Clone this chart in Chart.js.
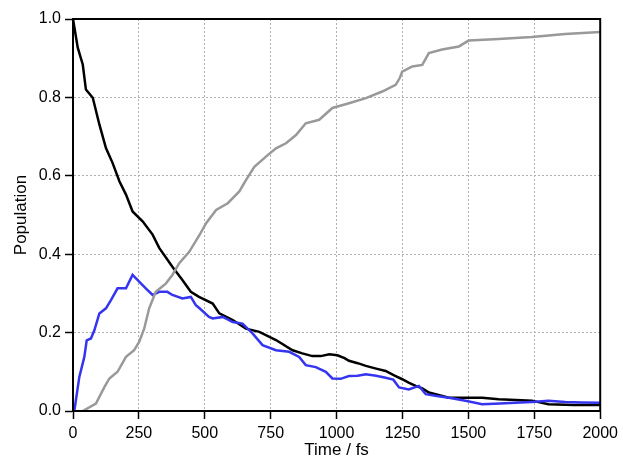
<!DOCTYPE html>
<html>
<head>
<meta charset="utf-8">
<script src="https://cdn.jsdelivr.net/npm/chart.js@4/dist/chart.umd.min.js"></script>
<style>
	body { margin: 0; background: #fff; }
	#box { width: 623px; height: 459px; }
</style>
</head>
<body>
<div id="box"><canvas id="grafico_pop"></canvas></div>
<script>
// valores (tempo em fs, populacao)
var x_ticks = [0, 250, 500, 750, 1000, 1250, 1500, 1750, 2000];
var y_ticks = [0.0, 0.2, 0.4, 0.6, 0.8, 1.0];

var preto_t = [0, 18, 37, 49, 75, 100, 125, 150, 176, 201, 226, 264, 302, 327, 377, 415, 447, 478, 530, 555, 606, 656, 707, 770, 833, 870, 908, 940, 972, 1003, 1030, 1047, 1080, 1111, 1150, 1186, 1220, 1249, 1275, 1300, 1325, 1350, 1390, 1426, 1490, 1552, 1615, 1680, 1741, 1770, 1804, 1900, 2000];
var preto_v = [1.0, 0.927, 0.884, 0.82, 0.799, 0.731, 0.671, 0.633, 0.586, 0.552, 0.509, 0.484, 0.45, 0.416, 0.368, 0.334, 0.304, 0.291, 0.274, 0.249, 0.232, 0.21, 0.202, 0.181, 0.155, 0.147, 0.14, 0.14, 0.145, 0.142, 0.135, 0.128, 0.122, 0.115, 0.108, 0.102, 0.09, 0.081, 0.072, 0.064, 0.058, 0.047, 0.04, 0.034, 0.034, 0.034, 0.03, 0.028, 0.026, 0.022, 0.017, 0.015, 0.015];

var azul_t = [5, 24, 43, 52, 68, 81, 100, 125, 144, 169, 201, 226, 251, 276, 302, 327, 358, 377, 415, 447, 466, 480, 516, 530, 568, 606, 643, 681, 719, 770, 820, 858, 883, 921, 959, 984, 1015, 1047, 1080, 1111, 1150, 1186, 1215, 1237, 1274, 1312, 1338, 1380, 1426, 1489, 1552, 1620, 1678, 1740, 1804, 1867, 1930, 2000];
var azul_v = [0, 0.087, 0.138, 0.18, 0.185, 0.206, 0.249, 0.262, 0.283, 0.313, 0.313, 0.347, 0.33, 0.313, 0.296, 0.304, 0.304, 0.296, 0.287, 0.291, 0.27, 0.262, 0.24, 0.236, 0.24, 0.227, 0.223, 0.198, 0.168, 0.155, 0.151, 0.138, 0.117, 0.112, 0.1, 0.083, 0.082, 0.089, 0.09, 0.094, 0.09, 0.085, 0.08, 0.06, 0.055, 0.064, 0.043, 0.038, 0.034, 0.026, 0.017, 0.019, 0.021, 0.023, 0.026, 0.023, 0.022, 0.021];

var cinza_t = [37, 87, 119, 138, 169, 201, 232, 251, 270, 289, 314, 352, 377, 403, 441, 480, 505, 543, 587, 631, 656, 688, 732, 770, 808, 846, 883, 934, 984, 1047, 1111, 1173, 1224, 1240, 1249, 1287, 1325, 1350, 1400, 1464, 1501, 1615, 1741, 1867, 2000];
var cinza_v = [0, 0.019, 0.061, 0.083, 0.1, 0.138, 0.155, 0.176, 0.21, 0.262, 0.304, 0.325, 0.347, 0.377, 0.406, 0.449, 0.479, 0.513, 0.53, 0.56, 0.589, 0.623, 0.649, 0.67, 0.683, 0.704, 0.734, 0.743, 0.773, 0.785, 0.798, 0.815, 0.832, 0.85, 0.866, 0.879, 0.883, 0.913, 0.922, 0.93, 0.945, 0.949, 0.954, 0.962, 0.967];

function juntar(t, v) {
	var pontos = [];
	for (var i = 0; i < t.length; i++) {
		pontos.push({ x: t[i], y: v[i] });
	}
	return pontos;
}

// moldura de cima e da direita
var moldura = {
	id: "moldura",
	afterDraw: function (chart) {
		var ctx = chart.ctx;
		var a = chart.chartArea;
		ctx.save();
		ctx.strokeStyle = "#000";
		ctx.lineWidth = 2;
		ctx.strokeRect(a.left, a.top, a.right - a.left, a.bottom - a.top);
		ctx.restore();
	},
};

var fonte = "'Liberation Sans', Arial, sans-serif";
var grade = {
	color: "#b0b0b0",
	lineWidth: 1,
	tickColor: "#000",
	tickLength: 8,
	tickWidth: 1.5,
	tickBorderDash: [],
};

new Chart(document.getElementById("grafico_pop"), {
	type: "line",
	data: {
		datasets: [
			{
				label: "cinza",
				data: juntar(cinza_t, cinza_v),
				borderColor: "#999999",
				borderWidth: 2.5,
				pointRadius: 0,
				tension: 0,
			},
			{
				label: "azul",
				data: juntar(azul_t, azul_v),
				borderColor: "#3535f0",
				borderWidth: 2.5,
				pointRadius: 0,
				tension: 0,
			},
			{
				label: "preto",
				data: juntar(preto_t, preto_v),
				borderColor: "#000000",
				borderWidth: 2.5,
				pointRadius: 0,
				tension: 0,
			},
		],
	},
	plugins: [moldura],
	options: {
		responsive: true,
		maintainAspectRatio: false,
		animation: false,
		layout: { padding: { top: 19, right: 21, left: 13, bottom: 0 } },
		plugins: {
			legend: { display: false },
			tooltip: { enabled: false },
		},
		scales: {
			x: {
				type: "linear",
				min: 0,
				max: 2000,
				afterBuildTicks: function (scale) {
					scale.ticks = x_ticks.map(function (v) { return { value: v }; });
				},
				afterFit: function (scale) { scale.height = 48; },
				ticks: {
					color: "#000",
					font: { family: fonte, size: 16 },
					padding: 5,
					maxRotation: 0,
					callback: function (v) { return String(v); },
				},
				grid: grade,
				border: { color: "#000", width: 2, dash: [2, 2] },
				title: {
					display: true,
					text: "Time / fs",
					color: "#000",
					font: { family: fonte, size: 17, lineHeight: 1 },
					padding: { top: 0, bottom: 0 },
				},
			},
			y: {
				min: 0,
				max: 1,
				afterBuildTicks: function (scale) {
					scale.ticks = y_ticks.map(function (v) { return { value: v }; });
				},
				afterFit: function (scale) { scale.width = 60; },
				ticks: {
					color: "#000",
					font: { family: fonte, size: 16 },
					padding: 4,
					callback: function (v) { return v.toFixed(1); },
				},
				grid: grade,
				border: { color: "#000", width: 2, dash: [2, 2] },
				title: {
					display: true,
					text: "Population",
					color: "#000",
					font: { family: fonte, size: 17, lineHeight: 1 },
					padding: { top: 0, bottom: 0 },
				},
			},
		},
	},
});
</script>
</body>
</html>
